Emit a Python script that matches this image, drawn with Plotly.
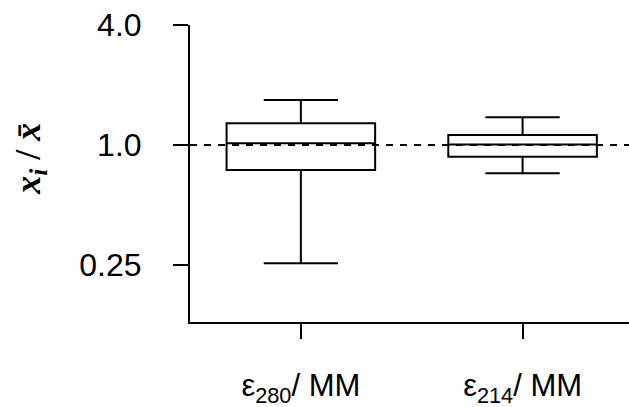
import math
import plotly.graph_objects as go

categories = ["ε<sub>280</sub>/ MM", "ε<sub>214</sub>/ MM"]
lower_whisker = [0.255, 0.721]
q1_values = [0.749, 0.873]
median_values = [1.02, 1.005]
q3_values = [1.285, 1.122]
upper_whisker = [1.68, 1.377]
y_tick_vals = [0.25, 1.0, 4.0]
y_tick_text = ["0.25", "1.0", "4.0"]
reference_level = 1.0

fig = go.Figure()
fig.add_trace(go.Box(
    x=categories,
    q1=q1_values,
    median=median_values,
    q3=q3_values,
    lowerfence=lower_whisker,
    upperfence=upper_whisker,
    width=0.67,
    whiskerwidth=0.5,
    fillcolor="white",
    line=dict(color="black", width=2),
    boxpoints=False,
    showlegend=False,
))

fig.add_shape(type="line", xref="paper", yref="y", x0=0, x1=1,
              y0=reference_level, y1=reference_level,
              line=dict(color="black", width=2, dash="7px,7px"), layer="above")

fig.add_annotation(
    text="<b><i>x<sub>i</sub></i> / <i>x\u0304</i></b>",
    xref="paper", yref="paper", x=-0.364, y=0.55,
    xanchor="center", yanchor="middle",
    textangle=-90, showarrow=False,
    font=dict(family="Liberation Serif", size=36, color="black"),
)

fig.update_layout(
    width=629, height=407,
    margin=dict(l=190, r=0, t=25, b=85),
    paper_bgcolor="white", plot_bgcolor="white",
    font=dict(family="Liberation Sans, Arial", color="black"),
    xaxis=dict(
        type="category", range=[-0.5, 1.48],
        showline=True, linecolor="black", linewidth=2,
        ticks="outside", ticklen=15, tickwidth=2, tickcolor="black",
        showgrid=False, zeroline=False,
        tickfont=dict(size=31), ticklabelstandoff=20,
    ),
    yaxis=dict(
        type="log", range=[math.log10(2 ** -2.95), math.log10(4.0)],
        tickvals=y_tick_vals, ticktext=y_tick_text,
        showline=True, linecolor="black", linewidth=2,
        ticks="outside", ticklen=15, tickwidth=2, tickcolor="black",
        showgrid=False, zeroline=False,
        tickfont=dict(size=32), ticklabelstandoff=25,
    ),
)

fig.write_html("out.html")
